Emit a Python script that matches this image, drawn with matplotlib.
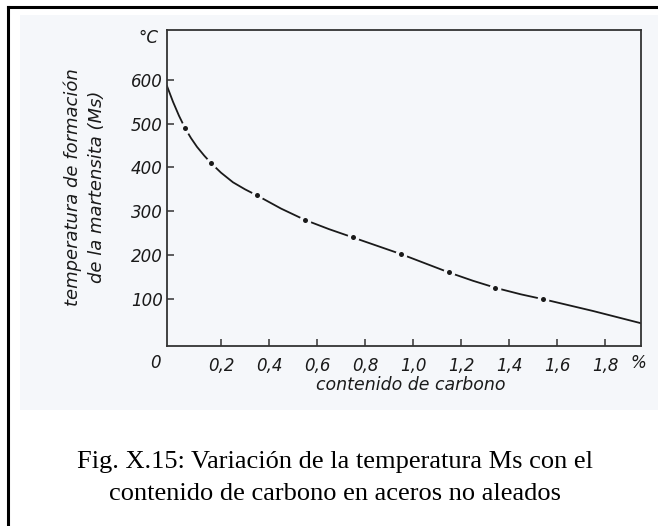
import matplotlib
matplotlib.use("Agg")
import matplotlib.pyplot as plt
from matplotlib.lines import Line2D
from matplotlib.patches import Rectangle

# curve (carbon %, Ms in degC)
curve_c = [-0.025, 0.0, 0.025, 0.05, 0.075, 0.10, 0.13, 0.16, 0.20, 0.25, 0.30,
           0.35, 0.45, 0.55, 0.65, 0.75, 0.85, 0.95, 1.05, 1.15, 1.25, 1.35,
           1.45, 1.55, 1.65, 1.75, 1.85, 1.95]
curve_t = [586, 550, 518, 490, 467, 447, 427, 409, 388, 366, 350,
           336, 306, 280, 259, 240, 221, 202, 181, 160, 141, 124,
           110, 98, 85, 72, 58, 44]

# measured points on the curve
pts_c = [0.05, 0.16, 0.35, 0.55, 0.75, 0.95, 1.15, 1.34, 1.54]
pts_t = [490, 410, 338, 280, 242, 202, 160, 125, 100]

x_ticks = [0.2, 0.4, 0.6, 0.8, 1.0, 1.2, 1.4, 1.6, 1.8]
x_labels = ["0,2", "0,4", "0,6", "0,8", "1,0", "1,2", "1,4", "1,6", "1,8"]
y_ticks = [100, 200, 300, 400, 500, 600]

ink = "#1a1a1a"
paper = "#f5f7fa"
hand = dict(family="DejaVu Sans", style="italic", color=ink)

fig = plt.figure(figsize=(6.58, 5.26), dpi=100)

# faint tint of the scanned page
fig.add_artist(Rectangle((20 / 658, 1 - 410 / 526), 638 / 658, 395 / 526,
                         transform=fig.transFigure, facecolor=paper,
                         edgecolor="none", zorder=-5))
# frame of the picture (top and left only)
fig.add_artist(Line2D([8 / 658, 1], [1 - 7 / 526, 1 - 7 / 526],
                      transform=fig.transFigure, color="black", lw=2.2))
fig.add_artist(Line2D([8 / 658, 8 / 658], [0, 1 - 7 / 526],
                      transform=fig.transFigure, color="black", lw=2.2))

ax = fig.add_axes([167 / 658, 1 - 346 / 526, 474 / 658, 316 / 526])
ax.set_facecolor("none")
ax.plot(curve_c, curve_t, color=ink, lw=1.3, zorder=2)
ax.plot(pts_c, pts_t, "o", ms=4, color=ink, mec=paper, mew=4.5, zorder=3)
ax.plot(pts_c, pts_t, "o", ms=3.6, color=ink, mew=0, zorder=4)

ax.set_xlim(-0.025, 1.95)
ax.set_ylim(-8, 714)
for s in ax.spines.values():
    s.set_color("#333333")
    s.set_linewidth(1.3)

ax.set_xticks(x_ticks)
ax.set_xticklabels(x_labels)
ax.set_yticks(y_ticks)
ax.tick_params(direction="in", length=5, width=1.1, colors="#333333")
ax.tick_params(axis="x", pad=8)
ax.tick_params(axis="y", pad=3)
for lab in ax.get_xticklabels() + ax.get_yticklabels():
    lab.set_fontstyle("italic")
    lab.set_fontsize(12)
    lab.set_color(ink)

ax.text(-0.075, -47, "0", ha="center", va="center", fontsize=12, clip_on=False, **hand)
ax.text(1.94, -47, "%", ha="center", va="center", fontsize=12, clip_on=False, **hand)
ax.text(-0.104, 695, "°C", ha="center", va="center", fontsize=12, clip_on=False, **hand)

fig.text(85 / 658, 1 - 187 / 526, "temperatura de formación\nde la martensita (Ms)",
         rotation=90, ha="center", va="center", multialignment="center",
         fontsize=13, linespacing=1.4, **hand)
fig.text(411 / 658, 1 - 385 / 526, "contenido de carbono",
         ha="center", va="center", fontsize=12.5, **hand)

cap = dict(family="Liberation Serif", fontsize=19, color="black", ha="center", va="baseline")
fig.text(335 / 658, 1 - 468 / 526, "Fig. X.15: Variación de la temperatura Ms con el", **cap)
fig.text(335 / 658, 1 - 500 / 526, "contenido de carbono en aceros no aleados", **cap)

fig.savefig("out.png", dpi=100)
